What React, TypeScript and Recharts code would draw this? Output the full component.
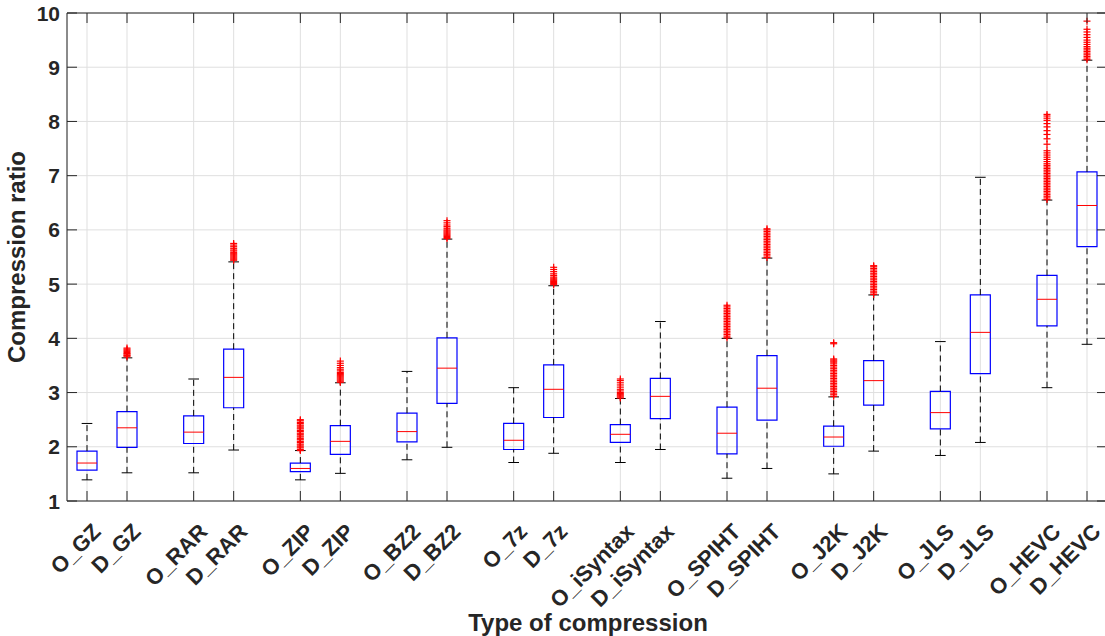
import React from 'react';
import { ComposedChart, XAxis, YAxis, CartesianGrid, ReferenceArea, ReferenceLine, Scatter } from 'recharts';

const categories = ['O_GZ', 'D_GZ', 'O_RAR', 'D_RAR', 'O_ZIP', 'D_ZIP', 'O_BZ2', 'D_BZ2', 'O_7z', 'D_7z',
  'O_iSyntax', 'D_iSyntax', 'O_SPIHT', 'D_SPIHT', 'O_J2K', 'D_J2K', 'O_JLS', 'D_JLS', 'O_HEVC', 'D_HEVC'];
const positions = [1, 1.75, 3, 3.75, 5, 5.75, 7, 7.75, 9, 9.75, 11, 11.75, 13, 13.75, 15, 15.75, 17, 17.75, 19, 19.75];

const whiskerLow = [1.39, 1.52, 1.52, 1.94, 1.39, 1.51, 1.76, 1.99, 1.71, 1.88, 1.71, 1.95, 1.42, 1.60, 1.50, 1.92, 1.84, 2.08, 3.09, 3.89];
const q1 = [1.57, 1.99, 2.06, 2.72, 1.54, 1.86, 2.09, 2.80, 1.95, 2.54, 2.08, 2.52, 1.87, 2.49, 2.01, 2.77, 2.33, 3.35, 4.23, 5.69];
const median = [1.70, 2.35, 2.27, 3.28, 1.60, 2.10, 2.28, 3.45, 2.12, 3.06, 2.23, 2.93, 2.25, 3.08, 2.18, 3.22, 2.63, 4.11, 4.72, 6.45];
const q3 = [1.92, 2.65, 2.57, 3.80, 1.70, 2.39, 2.62, 4.01, 2.43, 3.51, 2.41, 3.26, 2.73, 3.68, 2.38, 3.59, 3.02, 4.80, 5.16, 7.07];
const whiskerHigh = [2.43, 3.64, 3.25, 5.41, 1.93, 3.18, 3.39, 5.83, 3.09, 4.97, 2.89, 4.31, 4.00, 5.48, 2.92, 4.80, 3.94, 6.97, 6.55, 9.13];

const outliers: number[][] = [
  [],
  [3.66, 3.68, 3.69, 3.71, 3.72, 3.74, 3.76, 3.78, 3.80, 3.82],
  [],
  [5.44, 5.46, 5.48, 5.50, 5.52, 5.54, 5.56, 5.58, 5.61, 5.63, 5.66, 5.69, 5.72, 5.75],
  [1.93, 1.95, 1.98, 2.00, 2.03, 2.05, 2.08, 2.10, 2.13, 2.15, 2.18, 2.20, 2.23, 2.25, 2.28, 2.30, 2.33, 2.35, 2.38, 2.40, 2.43, 2.45, 2.48, 2.50],
  [3.19, 3.21, 3.23, 3.25, 3.27, 3.29, 3.31, 3.33, 3.35, 3.37, 3.40, 3.43, 3.46, 3.50, 3.54, 3.58],
  [],
  [5.84, 5.86, 5.88, 5.90, 5.92, 5.94, 5.96, 5.98, 6.00, 6.03, 6.06, 6.09, 6.13, 6.17],
  [],
  [4.99, 5.01, 5.03, 5.05, 5.07, 5.09, 5.11, 5.13, 5.16, 5.19, 5.23, 5.27, 5.31],
  [2.90, 2.92, 2.94, 2.96, 2.98, 3.00, 3.03, 3.06, 3.10, 3.14, 3.18, 3.22, 3.25],
  [],
  [4.01, 4.04, 4.07, 4.10, 4.13, 4.16, 4.19, 4.22, 4.25, 4.28, 4.31, 4.34, 4.37, 4.40, 4.43, 4.46, 4.49, 4.52, 4.55, 4.58, 4.61],
  [5.49, 5.52, 5.55, 5.58, 5.61, 5.64, 5.67, 5.70, 5.73, 5.76, 5.79, 5.82, 5.85, 5.88, 5.91, 5.94, 5.97, 6.00, 6.02],
  [2.93, 2.96, 2.99, 3.02, 3.05, 3.08, 3.11, 3.14, 3.17, 3.20, 3.23, 3.26, 3.29, 3.32, 3.35, 3.38, 3.41, 3.44, 3.47, 3.50, 3.53, 3.56, 3.58, 3.60, 3.62, 3.90, 3.92],
  [4.81, 4.84, 4.87, 4.90, 4.93, 4.96, 4.99, 5.02, 5.05, 5.08, 5.11, 5.14, 5.17, 5.20, 5.23, 5.26, 5.29, 5.32, 5.34],
  [],
  [],
  [6.56, 6.59, 6.62, 6.65, 6.68, 6.71, 6.74, 6.77, 6.80, 6.83, 6.86, 6.89, 6.92, 6.95, 6.98, 7.01, 7.04, 7.07, 7.10, 7.13, 7.16, 7.19, 7.22, 7.26, 7.30, 7.34, 7.38, 7.42, 7.46,
    7.58, 7.68, 7.76, 7.83, 7.90, 7.96, 8.02, 8.06, 8.10, 8.13],
  [9.14, 9.17, 9.20, 9.23, 9.26, 9.29, 9.32, 9.35, 9.38, 9.42, 9.46, 9.50, 9.55, 9.60, 9.65, 9.70, 9.85],
];

const yTicks = [1, 2, 3, 4, 5, 6, 7, 8, 9, 10];

const outlierPoints = outliers.flatMap((vals, i) => vals.map((v) => ({ x: positions[i], y: v })));

// layout
const W = 1110;
const H = 636;
const PLOT_LEFT = 67;
const PLOT_RIGHT = 1107;
const PLOT_TOP = 13;
const PLOT_BOTTOM = 501;
const TICK_LEN = 10;
const BOX_HALF = 0.1875;
const CAP_HALF = 0.1;
const AXIS = '#262626';
const FONT = '"Liberation Sans", Arial, Helvetica, sans-serif';

const XTick = (props: any) => {
  const { x, payload } = props;
  const idx = positions.indexOf(payload.value);
  const tx = x + 15;
  const ty = 533;
  return (
    <g>
      <line x1={x} x2={x} y1={PLOT_BOTTOM} y2={PLOT_BOTTOM - TICK_LEN} stroke={AXIS} />
      <line x1={x} x2={x} y1={PLOT_TOP} y2={PLOT_TOP + TICK_LEN} stroke={AXIS} />
      <text x={tx} y={ty} textAnchor="end" transform={`rotate(-45, ${tx}, ${ty})`}
        fontFamily={FONT} fontWeight="bold" fontSize={22} fill={AXIS}>
        {categories[idx]}
      </text>
    </g>
  );
};

const YTick = (props: any) => {
  const { y, payload } = props;
  return (
    <g>
      <line x1={PLOT_LEFT} x2={PLOT_LEFT + TICK_LEN} y1={y} y2={y} stroke={AXIS} />
      <line x1={PLOT_RIGHT - TICK_LEN} x2={PLOT_RIGHT} y1={y} y2={y} stroke={AXIS} />
      <text x={PLOT_LEFT - 7} y={y} dy="0.36em" textAnchor="end"
        fontFamily={FONT} fontWeight="bold" fontSize={21} fill={AXIS}>
        {payload.value}
      </text>
    </g>
  );
};

const YTitle = () => (
  <text x={0} y={0} transform="translate(25, 257) rotate(-90)" textAnchor="middle"
    fontFamily={FONT} fontWeight="bold" fontSize={24} fill={AXIS}>
    Compression ratio
  </text>
);

const XTitle = () => (
  <text x={588} y={631} textAnchor="middle" fontFamily={FONT} fontWeight="bold" fontSize={24} fill={AXIS}>
    Type of compression
  </text>
);

const PlusMark = (props: any) => {
  const { cx, cy } = props;
  return (
    <g>
      <line x1={cx - 3.5} x2={cx + 3.5} y1={cy} y2={cy} stroke="#ff0000" strokeWidth={1.2} />
      <line x1={cx} x2={cx} y1={cy - 3.5} y2={cy + 3.5} stroke="#ff0000" strokeWidth={1.2} />
    </g>
  );
};

export default function App() {
  return (
    <div style={{ position: 'absolute', left: 0, top: 0, width: 1105, height: 636, overflow: 'hidden', background: '#fff' }}>
      <ComposedChart width={W} height={H} margin={{ top: PLOT_TOP, right: W - PLOT_RIGHT, bottom: 0, left: 0 }}>
        <CartesianGrid stroke="#dfdfdf" />
        <XAxis type="number" dataKey="x" domain={[0.625, 20.125]} ticks={positions} interval={0}
          allowDataOverflow height={H - PLOT_BOTTOM} tick={<XTick />} tickLine={false}
          axisLine={{ stroke: AXIS }} label={<XTitle />} />
        <YAxis type="number" dataKey="y" domain={[1, 10]} ticks={yTicks} interval={0}
          allowDataOverflow width={PLOT_LEFT} tick={<YTick />} tickLine={false}
          axisLine={{ stroke: AXIS }} label={<YTitle />} />
        <ReferenceLine y={10} stroke={AXIS} />
        {positions.map((p, i) => (
          <ReferenceLine key={`wh${i}`} segment={[{ x: p, y: q3[i] }, { x: p, y: whiskerHigh[i] }]}
            stroke="#000" strokeDasharray="6 4" />
        ))}
        {positions.map((p, i) => (
          <ReferenceLine key={`wl${i}`} segment={[{ x: p, y: whiskerLow[i] }, { x: p, y: q1[i] }]}
            stroke="#000" strokeDasharray="6 4" />
        ))}
        {positions.map((p, i) => (
          <ReferenceLine key={`ch${i}`} segment={[{ x: p - CAP_HALF, y: whiskerHigh[i] }, { x: p + CAP_HALF, y: whiskerHigh[i] }]}
            stroke="#000" />
        ))}
        {positions.map((p, i) => (
          <ReferenceLine key={`cl${i}`} segment={[{ x: p - CAP_HALF, y: whiskerLow[i] }, { x: p + CAP_HALF, y: whiskerLow[i] }]}
            stroke="#000" />
        ))}
        {positions.map((p, i) => (
          <ReferenceArea key={`b${i}`} x1={p - BOX_HALF} x2={p + BOX_HALF} y1={q1[i]} y2={q3[i]}
            fill="none" fillOpacity={0} stroke="#0000ff" strokeWidth={1.2} />
        ))}
        {positions.map((p, i) => (
          <ReferenceLine key={`m${i}`} segment={[{ x: p - BOX_HALF, y: median[i] }, { x: p + BOX_HALF, y: median[i] }]}
            stroke="#ff0000" />
        ))}
        <Scatter data={outlierPoints} dataKey="y" shape={<PlusMark />} isAnimationActive={false} />
      </ComposedChart>
    </div>
  );
}
